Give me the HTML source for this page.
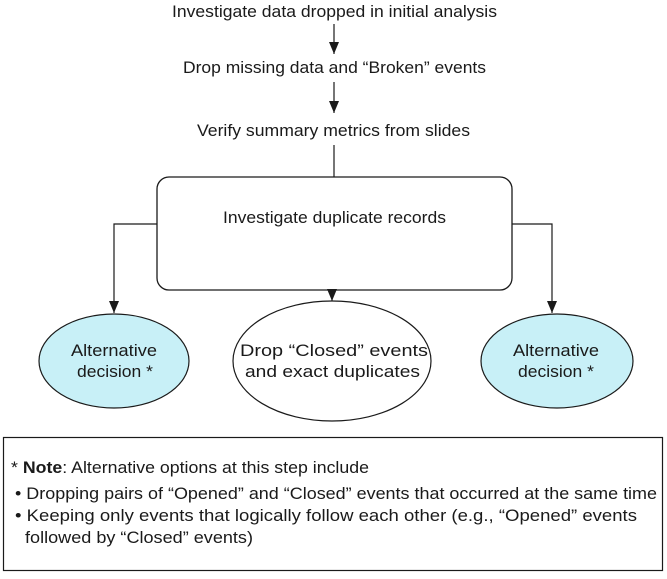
<!DOCTYPE html>
<html><head><style>
body{margin:0;background:#fff;}
svg text{font-family:"Liberation Sans",Arial,sans-serif;font-size:16.5px;fill:#1a1a1a;}
</style></head><body>
<svg width="667" height="574" viewBox="0 0 667 574" xmlns="http://www.w3.org/2000/svg">
<defs><marker id="a" markerWidth="12" markerHeight="10" refX="12" refY="5" orient="auto" markerUnits="userSpaceOnUse"><path d="M0,0 L12,5 L0,10 z" fill="#1a1a1a"/></marker></defs>
<text x="172" y="17" textLength="325" lengthAdjust="spacingAndGlyphs">Investigate data dropped in initial analysis</text>
<line x1="334" y1="24" x2="334" y2="54" stroke="#1a1a1a" stroke-width="1.2" marker-end="url(#a)"/>
<text x="183" y="73" textLength="303" lengthAdjust="spacingAndGlyphs">Drop missing data and “Broken” events</text>
<line x1="334" y1="82" x2="334" y2="113" stroke="#1a1a1a" stroke-width="1.2" marker-end="url(#a)"/>
<text x="197" y="136" textLength="273" lengthAdjust="spacingAndGlyphs">Verify summary metrics from slides</text>
<line x1="334" y1="145" x2="334" y2="178" stroke="#1a1a1a" stroke-width="1.2"/>
<rect x="157" y="177" width="355" height="113" rx="12" fill="#fff" stroke="#1a1a1a" stroke-width="1.3"/>
<text x="223" y="223" textLength="223" lengthAdjust="spacingAndGlyphs">Investigate duplicate records</text>
<polyline points="157,224 114,224 114,313" fill="none" stroke="#1a1a1a" stroke-width="1.2" marker-end="url(#a)"/>
<polyline points="512,224 552,224 552,313" fill="none" stroke="#1a1a1a" stroke-width="1.2" marker-end="url(#a)"/>
<line x1="332" y1="290" x2="332" y2="301" stroke="#1a1a1a" stroke-width="1.2" marker-end="url(#a)"/>
<ellipse cx="114" cy="361" rx="75" ry="47" fill="#c8f0f7" stroke="#1a1a1a" stroke-width="1.2"/>
<text x="71" y="356" textLength="86" lengthAdjust="spacingAndGlyphs">Alternative</text>
<text x="77" y="377" textLength="76" lengthAdjust="spacingAndGlyphs">decision *</text>
<ellipse cx="332" cy="361" rx="99" ry="60" fill="#fff" stroke="#1a1a1a" stroke-width="1.2"/>
<text x="240" y="356" textLength="188" lengthAdjust="spacingAndGlyphs">Drop “Closed” events</text>
<text x="245" y="377" textLength="175" lengthAdjust="spacingAndGlyphs">and exact duplicates</text>
<ellipse cx="557" cy="361" rx="76" ry="47" fill="#c8f0f7" stroke="#1a1a1a" stroke-width="1.2"/>
<text x="513" y="356" textLength="86" lengthAdjust="spacingAndGlyphs">Alternative</text>
<text x="518" y="377" textLength="76" lengthAdjust="spacingAndGlyphs">decision *</text>
<rect x="3.5" y="437.5" width="659" height="133" fill="#fff" stroke="#1a1a1a" stroke-width="1.2"/>
<text x="11" y="473" textLength="358" lengthAdjust="spacingAndGlyphs">* <tspan font-weight="bold">Note</tspan>: Alternative options at this step include</text>
<text x="15" y="499" textLength="642" lengthAdjust="spacingAndGlyphs">• Dropping pairs of “Opened” and “Closed” events that occurred  at the same time</text>
<text x="15" y="521" textLength="622" lengthAdjust="spacingAndGlyphs">• Keeping only events that logically follow each other (e.g., “Opened” events</text>
<text x="25" y="543" textLength="228" lengthAdjust="spacingAndGlyphs">followed by “Closed” events)</text>
</svg>
</body></html>
